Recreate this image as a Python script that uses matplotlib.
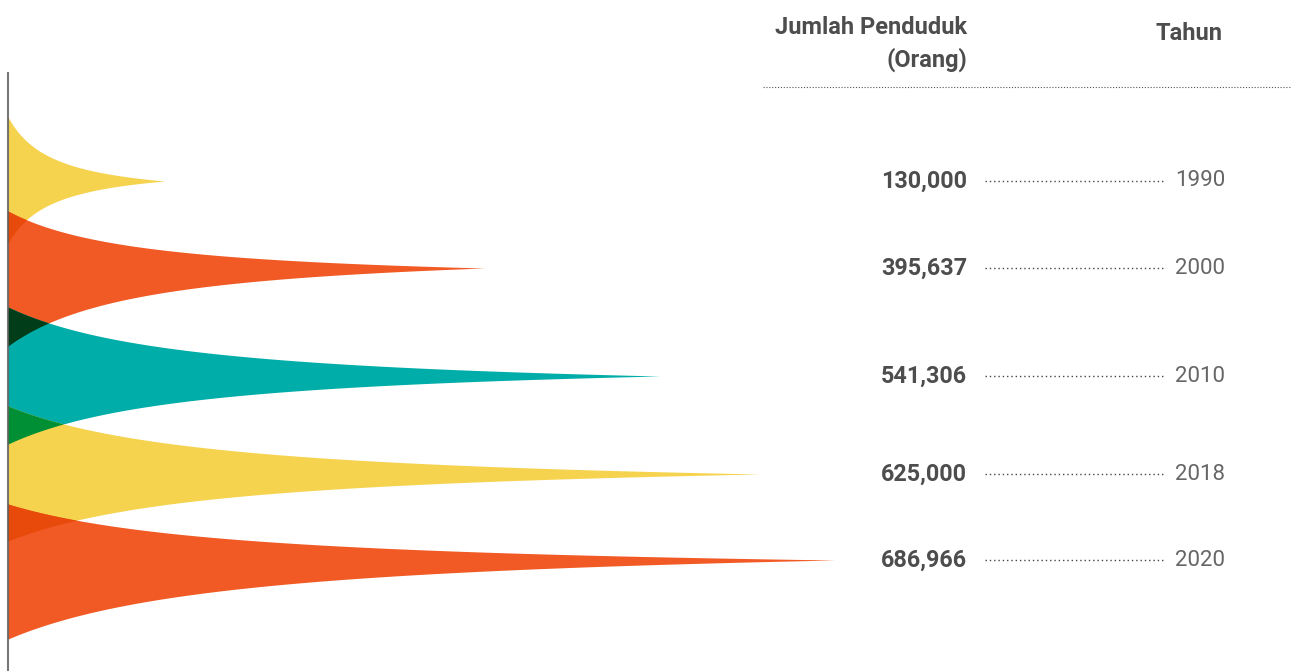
import numpy as np
import matplotlib
matplotlib.use("Agg")
import matplotlib.pyplot as plt
from matplotlib.transforms import blended_transform_factory

# data
years = ["1990", "2000", "2010", "2018", "2020"]
penduduk = [130000, 395637, 541306, 625000, 686966]
label_penduduk = ["130,000", "395,637", "541,306", "625,000", "686,966"]

# layout (y in pixels from top, half heights of each horn base)
row_y = [181, 268, 376, 474, 560]
h_up = [64, 57, 69, 68, 56]
h_down = [62, 78, 68, 67, 79]
warna = ["#F6D34E", "#F15A24", "#00ADA9", "#F6D34E", "#F15A24"]

W, H = 1293, 671
fig = plt.figure(figsize=(W / 100, H / 100), dpi=100)
fig.patch.set_facecolor("white")

x0 = 8
x1 = 835
ax = fig.add_axes([x0 / W, 0, (x1 - x0) / W, 1])
ax.set_xlim(0, max(penduduk))
ax.set_ylim(H, 0)
ax.axis("off")


def hex_rgb(c):
    c = c.lstrip("#")
    return np.array([int(c[i:i + 2], 16) for i in (0, 2, 4)]) / 255.0


def profil(panjang, xs, k=3.5):
    """Lebar relatif tanduk (1 di pangkal, 0 di ujung)."""
    t = np.clip(xs / panjang, 0, 1)
    return (1 - t) / (1 + k * t)


xs = np.linspace(0, max(penduduk), 3000)
atas, bawah = [], []
for i, v in enumerate(penduduk):
    p = profil(v, xs)
    ok = xs <= v
    a = np.where(ok, row_y[i] - h_up[i] * p, np.nan)
    b = np.where(ok, row_y[i] + h_down[i] * p, np.nan)
    atas.append(a)
    bawah.append(b)
    xi = np.append(xs[ok], v)
    ax.fill_between(xi, np.append(a[ok], row_y[i]), np.append(b[ok], row_y[i]),
                    color=warna[i], linewidth=0, zorder=2)

# overlap dengan efek multiply
for i in range(len(penduduk)):
    for j in range(i + 1, len(penduduk)):
        lo = np.maximum(atas[i], atas[j])
        hi = np.minimum(bawah[i], bawah[j])
        m = np.isfinite(lo) & np.isfinite(hi) & (hi > lo)
        if not m.any():
            continue
        c = hex_rgb(warna[i]) * hex_rgb(warna[j])
        ax.fill_between(xs, lo, hi, where=m, color=c, linewidth=0, zorder=3,
                        interpolate=True)

# garis sumbu kiri
ax.plot([0, 0], [72, H], color="#555555", linewidth=1.5, alpha=0.8,
        zorder=4, clip_on=False, solid_capstyle="butt")

tr = blended_transform_factory(fig.transFigure, ax.transData)
teks_gelap = "#4d4d4d"
fam = ["Roboto", "DejaVu Sans"]

fig.text(967 / W, 28, "Jumlah Penduduk", transform=tr, ha="right", va="center",
         fontsize=17, fontweight="bold", color=teks_gelap, family=fam)
fig.text(967 / W, 60, "(Orang)", transform=tr, ha="right", va="center",
         fontsize=17, fontweight="bold", color=teks_gelap, family=fam)
fig.text(1223 / W, 33, "Tahun", transform=tr, ha="right", va="center",
         fontsize=17, fontweight="bold", color=teks_gelap, family=fam)

ax.plot([763 / W, 1290 / W], [87, 87], transform=tr, color="#555555",
        linewidth=0.8, linestyle=(0, (1, 1.6)), clip_on=False)

for i in range(len(penduduk)):
    y = row_y[i]
    fig.text(967 / W, y, label_penduduk[i], transform=tr, ha="right",
             va="center", fontsize=16.8, fontweight="bold", color=teks_gelap,
             family=fam)
    ax.plot([985 / W, 1163 / W], [y, y], transform=tr, color="#444444",
            linewidth=1.0, linestyle=(0, (1, 2.1)), clip_on=False)
    fig.text(1175 / W, y, years[i], transform=tr, ha="left", va="center",
             fontsize=16, color="#666666", family=fam)

fig.savefig("out.png", dpi=100, facecolor="white")
